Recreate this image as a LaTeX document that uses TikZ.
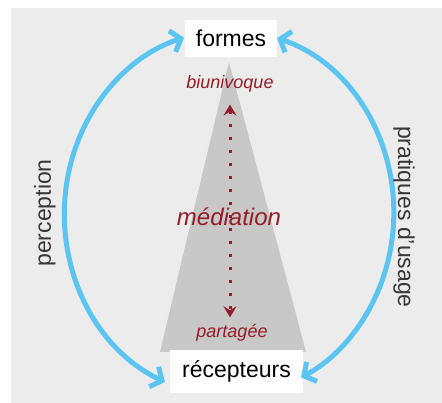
\documentclass[tikz,border=0pt]{standalone}
\usepackage{fontspec}
\setmainfont{Liberation Sans}
\usetikzlibrary{arrows.meta}
\definecolor{bgc}{RGB}{236,236,236}
\definecolor{tric}{RGB}{200,200,200}
\definecolor{bluec}{RGB}{92,196,240}
\definecolor{redc}{RGB}{150,28,40}
\definecolor{txtc}{RGB}{55,55,55}
\tikzset{
  box/.style={fill=white, inner sep=0pt, font=\fontsize{23}{27}\selectfont, text=black},
  sidelabel/.style={inner sep=0pt, font=\fontsize{23}{27}\selectfont, text=txtc},
  redlabel/.style={inner sep=0pt, text=redc, font=\fontsize{18}{21}\selectfont\itshape},
  bluearc/.style={draw=bluec, line width=5pt,
    {Straight Barb[length=9pt,width=22pt,line width=5pt]}-{Straight Barb[length=9pt,width=22pt,line width=5pt]}},
  dotarrow/.style={draw=redc, line width=3pt, dash pattern=on 3pt off 10pt,
    {Stealth[length=11pt,width=13pt,inset=4pt]}-{Stealth[length=11pt,width=13pt,inset=4pt]}}
}
\begin{document}
\begin{tikzpicture}[x=1pt,y=-1pt]
\useasboundingbox (0,0) rectangle (442,403);
\fill[white] (0,0) rectangle (442,403);
\fill[bgc] (11,8) rectangle (442,403);
% triangle
\coordinate (apex) at (229,62);
\coordinate (bR) at (306,352);
\coordinate (bL) at (160,352);
\fill[tric] (apex) -- (bR) -- (bL) -- cycle;
% boxes
\node[box, minimum width=92pt, minimum height=37pt] (formes) at (231,38.5) {formes};
\node[box, minimum width=133pt, minimum height=43pt] (recep) at (236.5,371.5) {récepteurs};
% red labels
\node[redlabel] (biun) at (230,84) {biunivoque};
\node[redlabel] (part) at (232,333) {partagée};
\node[redlabel, font=\fontsize{24}{28}\selectfont\itshape] (med) at (229,217) {médiation};
\draw[dotarrow, shorten <=12pt, shorten >=7pt] (biun.south) -- (biun.south |- part.north);
% blue arcs
\coordinate (lb) at (165,382);
\coordinate (rt) at (277,38);
\draw[bluearc] (lb) arc[start angle=113, end angle=254, x radius=165, y radius=183];
\draw[bluearc] (rt) arc[start angle=-73, end angle=64, x radius=165, y radius=183];
% side labels
\node[sidelabel, rotate=90] (perc) at (45,213) {perception};
\node[sidelabel, rotate=-90] (prat) at (404,217) {pratiques d'usage};
\end{tikzpicture}
\end{document}
